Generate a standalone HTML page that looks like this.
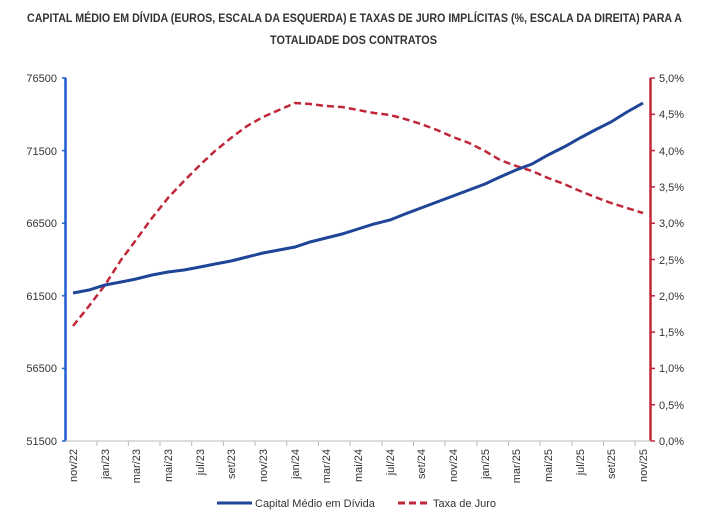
<!DOCTYPE html>
<html><head><meta charset="utf-8"><style>
body{margin:0;background:#fff;}
svg text{font-family:"Liberation Sans",sans-serif;fill:#333;}
</style></head><body>
<svg width="728" height="518" xmlns="http://www.w3.org/2000/svg">
<text x="27" y="22" font-size="11.5" font-weight="bold" fill="#222" textLength="655" lengthAdjust="spacingAndGlyphs">CAPITAL MÉDIO EM DÍVIDA (EUROS, ESCALA DA ESQUERDA) E TAXAS DE JURO IMPLÍCITAS (%, ESCALA DA DIREITA) PARA A</text>
<text x="270" y="44" font-size="11.5" font-weight="bold" fill="#222" textLength="167" lengthAdjust="spacingAndGlyphs">TOTALIDADE DOS CONTRATOS</text>
<g stroke="#1f5fd1" stroke-width="2.5"><line x1="65.5" y1="78" x2="65.5" y2="441"/></g>
<g stroke="#1f5fd1" stroke-width="1.5">
<line x1="62" y1="78" x2="66" y2="78"/><line x1="62" y1="150.6" x2="66" y2="150.6"/><line x1="62" y1="223.2" x2="66" y2="223.2"/><line x1="62" y1="295.8" x2="66" y2="295.8"/><line x1="62" y1="368.4" x2="66" y2="368.4"/><line x1="62" y1="441" x2="66" y2="441"/></g>
<g stroke="#c0283a" stroke-width="2.5"><line x1="650.5" y1="78" x2="650.5" y2="441"/></g>
<g stroke="#c0283a" stroke-width="1.5">
<line x1="650" y1="78" x2="655" y2="78"/><line x1="650" y1="114.3" x2="655" y2="114.3"/><line x1="650" y1="150.6" x2="655" y2="150.6"/><line x1="650" y1="186.9" x2="655" y2="186.9"/><line x1="650" y1="223.2" x2="655" y2="223.2"/><line x1="650" y1="259.5" x2="655" y2="259.5"/><line x1="650" y1="295.8" x2="655" y2="295.8"/><line x1="650" y1="332.1" x2="655" y2="332.1"/><line x1="650" y1="368.4" x2="655" y2="368.4"/><line x1="650" y1="404.7" x2="655" y2="404.7"/><line x1="650" y1="441" x2="655" y2="441"/></g>
<line x1="65" y1="441" x2="651" y2="441" stroke="#bbb" stroke-width="1"/>
<g stroke="#bbb" stroke-width="1">
<line x1="97" y1="441" x2="97" y2="446"/><line x1="128.4" y1="441" x2="128.4" y2="446"/><line x1="160" y1="441" x2="160" y2="446"/><line x1="191.7" y1="441" x2="191.7" y2="446"/><line x1="223.4" y1="441" x2="223.4" y2="446"/><line x1="255" y1="441" x2="255" y2="446"/><line x1="286.8" y1="441" x2="286.8" y2="446"/><line x1="318.5" y1="441" x2="318.5" y2="446"/><line x1="350" y1="441" x2="350" y2="446"/><line x1="382" y1="441" x2="382" y2="446"/><line x1="413.5" y1="441" x2="413.5" y2="446"/><line x1="445" y1="441" x2="445" y2="446"/><line x1="477" y1="441" x2="477" y2="446"/><line x1="508.6" y1="441" x2="508.6" y2="446"/><line x1="540" y1="441" x2="540" y2="446"/><line x1="572" y1="441" x2="572" y2="446"/><line x1="603.5" y1="441" x2="603.5" y2="446"/><line x1="635" y1="441" x2="635" y2="446"/></g>
<g font-size="11" text-anchor="end">
<text x="57" y="82">76500</text><text x="57" y="155">71500</text><text x="57" y="227">66500</text><text x="57" y="300">61500</text><text x="57" y="372">56500</text><text x="57" y="445">51500</text></g>
<g font-size="11">
<text x="659" y="82">5,0%</text><text x="659" y="118">4,5%</text><text x="659" y="155">4,0%</text><text x="659" y="191">3,5%</text><text x="659" y="227">3,0%</text><text x="659" y="264">2,5%</text><text x="659" y="300">2,0%</text><text x="659" y="336">1,5%</text><text x="659" y="372">1,0%</text><text x="659" y="409">0,5%</text><text x="659" y="445">0,0%</text></g>
<g font-size="11" text-anchor="end">
<text transform="translate(77,449) rotate(-90)">nov/22</text>
<text transform="translate(109,449) rotate(-90)">jan/23</text>
<text transform="translate(140,449) rotate(-90)">mar/23</text>
<text transform="translate(172,449) rotate(-90)">mai/23</text>
<text transform="translate(204,449) rotate(-90)">jul/23</text>
<text transform="translate(235,449) rotate(-90)">set/23</text>
<text transform="translate(267,449) rotate(-90)">nov/23</text>
<text transform="translate(299,449) rotate(-90)">jan/24</text>
<text transform="translate(330,449) rotate(-90)">mar/24</text>
<text transform="translate(362,449) rotate(-90)">mai/24</text>
<text transform="translate(394,449) rotate(-90)">jul/24</text>
<text transform="translate(425,449) rotate(-90)">set/24</text>
<text transform="translate(457,449) rotate(-90)">nov/24</text>
<text transform="translate(489,449) rotate(-90)">jan/25</text>
<text transform="translate(520,449) rotate(-90)">mar/25</text>
<text transform="translate(552,449) rotate(-90)">mai/25</text>
<text transform="translate(584,449) rotate(-90)">jul/25</text>
<text transform="translate(615,449) rotate(-90)">set/25</text>
<text transform="translate(647,449) rotate(-90)">nov/25</text></g>
<polyline fill="none" stroke="#c0283a" stroke-width="2.5" stroke-dasharray="7,4" points="73,326 89,306 105,285 121,260 136,240 152,218 168,198 184,181 200,165 215,151 231,138 247,126 263,117 279,110 295,103 310,104 326,106 342,107 358,110 374,113 390,115 405,119 421,124 437,130 453,137 469,143 485,151 500,160 516,166 532,171 548,178 564,184 580,191 595,197 611,203 627,208 643,213"/>
<polyline fill="none" stroke="#1f4597" stroke-width="3" points="73,293 89,290 105,285 121,282 136,279 152,275 168,272 184,270 200,267 215,264 231,261 247,257 263,253 279,250 295,247 310,242 326,238 342,234 358,229 374,224 390,220 405,214 421,208 437,202 453,196 469,190 485,184 500,177 516,170 532,164 548,155 564,147 580,138 595,130 611,122 627,112 643,103"/>
<line x1="217" y1="503" x2="252" y2="503" stroke="#1f4597" stroke-width="3"/>
<text x="255" y="507" font-size="11">Capital Médio em Dívida</text>
<line x1="398" y1="503" x2="430" y2="503" stroke="#c0283a" stroke-width="3" stroke-dasharray="7,4"/>
<text x="433" y="507" font-size="11">Taxa de Juro</text>
</svg>
</body></html>
